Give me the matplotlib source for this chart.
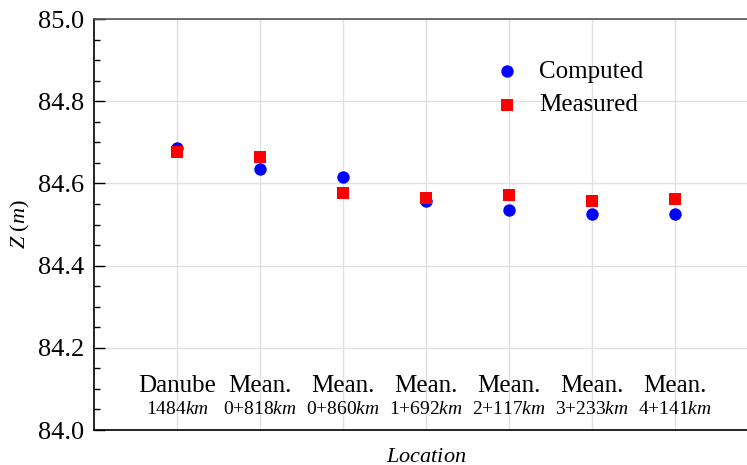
import matplotlib
matplotlib.use("Agg")
import matplotlib.pyplot as plt
import matplotlib.transforms as mtransforms

plt.rcParams['font.family'] = ['Liberation Serif', 'DejaVu Serif']
plt.rcParams['mathtext.fontset'] = 'custom'
plt.rcParams['mathtext.rm'] = 'Liberation Serif'
plt.rcParams['mathtext.it'] = 'Liberation Serif:italic'

names = ["Danube", "Mean.", "Mean.", "Mean.", "Mean.", "Mean.", "Mean."]
stations = ["1484", "0+818", "0+860", "1+692", "2+117", "3+233", "4+141"]
computed = [84.686, 84.636, 84.616, 84.558, 84.536, 84.526, 84.526]
measured = [84.676, 84.664, 84.577, 84.564, 84.572, 84.556, 84.562]

W, H = 747, 465
fig = plt.figure(figsize=(W / 100, H / 100), dpi=100)
ax = fig.add_axes([94 / W, 1 - 430 / H, 664 / W, 411 / H])

x = list(range(len(names)))
ax.scatter(x, computed, s=80, color='#0000ff', marker='o', label='Computed', zorder=3, linewidths=0)
ax.scatter(x, measured, s=80, color='#ff0000', marker='s', label='Measured', zorder=4, linewidths=0)

ax.set_xlim(-1, 7)
ax.set_ylim(84.0, 85.0)
ax.set_yticks([84.0, 84.2, 84.4, 84.6, 84.8, 85.0])
ax.set_yticks([round(84.0 + 0.05 * i, 2) for i in range(21) if i % 4 != 0], minor=True)
ax.set_xticks(x)
ax.set_xticklabels([])
ax.tick_params(axis='x', length=0)
ax.tick_params(axis='y', which='major', direction='in', length=8, width=1.0, labelsize=19, pad=7)
ax.tick_params(axis='y', which='minor', direction='in', length=4.5, width=1.0)
ax.grid(True, which='major', color='#e0e0e0', linewidth=1)
ax.set_axisbelow(True)

for side in ['left', 'bottom']:
    ax.spines[side].set_color('black')
    ax.spines[side].set_linewidth(1.2)
ax.spines['top'].set_color('#555555')
ax.spines['top'].set_linewidth(1.2)
ax.spines['right'].set_visible(False)

trans = mtransforms.blended_transform_factory(ax.transData, ax.transAxes)
for i, (n, s) in enumerate(zip(names, stations)):
    ax.text(i, (430 - 386) / 411, n, transform=trans, ha='center', va='center', fontsize=18)
    ax.text(i, (430 - 409) / 411, s + r'$\mathit{km}$', transform=trans, ha='center', va='center', fontsize=14)

ax.set_ylabel(r'$Z$ ($m$)', fontsize=16, va='center')
ax.yaxis.set_label_coords((20 - 94) / 664, 0.5)
ax.set_xlabel(r'$Location$', fontsize=16, va='center')
ax.xaxis.set_label_coords(0.5, (430 - 457) / 411)

leg = ax.legend(loc='upper left', bbox_to_anchor=(0.569, 0.954), frameon=False, fontsize=18,
                handlelength=1.0, handletextpad=0.8, labelspacing=0.43, scatterpoints=1,
                borderpad=0.4)

fig.savefig('out.png', dpi=100)
